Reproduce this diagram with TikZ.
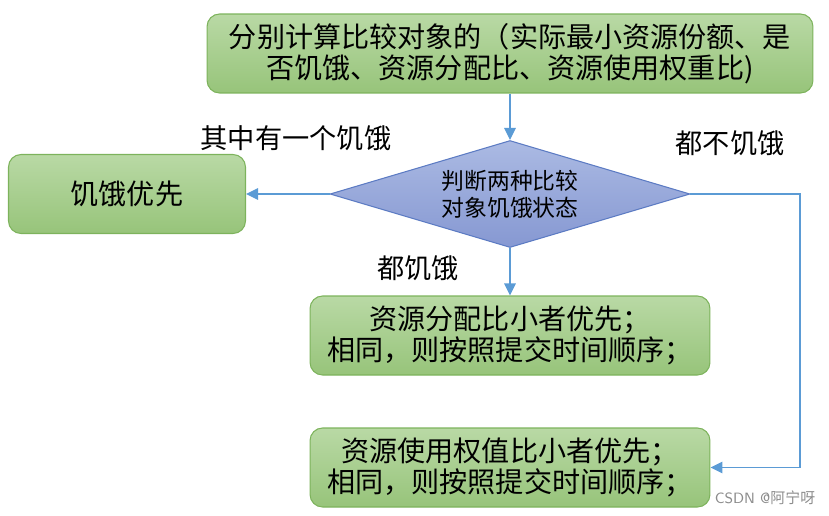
\documentclass[tikz,border=0pt]{standalone}
\usepackage{fontspec}
\newfontfamily\cjk{Noto Sans CJK SC}
\usetikzlibrary{arrows.meta,shapes.geometric,positioning}
\definecolor{boxtop}{HTML}{B9D9A5}
\definecolor{boxbot}{HTML}{97C47A}
\definecolor{boxline}{HTML}{7DB35C}
\definecolor{dtop}{HTML}{ABBAE3}
\definecolor{dbot}{HTML}{8698D2}
\definecolor{dline}{HTML}{5C7BC3}
\definecolor{flowline}{HTML}{5B9BD5}
\tikzset{greenbox/.style={
    % The shape:
    rectangle,minimum height=1.58cm,rounded corners=2.5mm,inner sep=0pt,
    % The rest
    draw=boxline,line width=0.6pt,
    top color=boxtop,bottom color=boxbot,
    font=\cjk\fontsize{16}{17.5}\selectfont,align=center
  },
  decision/.style={
    % The shape:
    diamond,aspect=3.36,minimum width=7.2cm,minimum height=2.14cm,inner sep=0pt,
    % The rest
    draw=dline,line width=0.6pt,
    top color=dtop,bottom color=dbot,
    font=\cjk\fontsize{13}{15.5}\selectfont,align=center
  },
  flow/.style={draw=flowline,line width=0.7pt,-{Triangle[length=2.4mm,width=2.3mm]}},
  branch/.style={font=\cjk\fontsize{15.5}{17}\selectfont,inner sep=0pt}
}

\begin{document}
\begin{tikzpicture}[x=0.02cm,y=-0.02cm]
      \useasboundingbox (0,0) rectangle (829,515);

      \node (calc) [greenbox,minimum width=12.12cm] at (510,53.5) {
        分别计算比较对象的（实际最小资源份额、是\\
        否饥饿、资源分配比、资源使用权重比)};

      \node (judge) [decision] at (510,194) {
        判断两种比较\\
        对象饥饿状态};

      \node (hungry) [greenbox,minimum width=4.74cm] at (127,194) {饥饿优先};

      \node (ratio) [greenbox,minimum width=8cm] at (510,335.5) {
        资源分配比小者优先；\\
        相同，则按照提交时间顺序；};

      \node (weight) [greenbox,minimum width=8cm] at (510,467.5) {
        资源使用权值比小者优先；\\
        相同，则按照提交时间顺序；};

      \coordinate (turn) at (800,467.5);

      \node (one)  [branch] at (296,138) {其中有一个饥饿};
      \node (none) [branch] at (730,143) {都不饥饿};
      \node (both) [branch] at (418,268) {都饥饿};
      \node (mark) [font=\sffamily\fontsize{8.5}{10}\selectfont,text=black!45,inner sep=0pt] at (765,498) {CSDN @\cjk 阿宁呀};

      \path (calc) edge[flow] (judge);
      \path (judge) edge[flow] (hungry);
      \path (judge) edge[flow] (ratio);
      \draw[flow] (judge.east) -| (turn) -- (weight.east);
    \end{tikzpicture}
\end{document}
